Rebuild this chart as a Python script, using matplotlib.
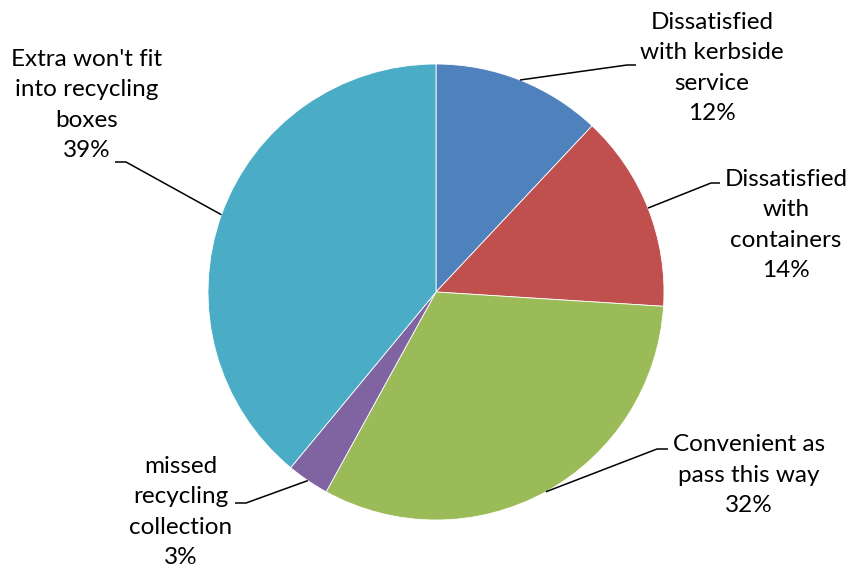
import matplotlib
matplotlib.use("Agg")
import matplotlib.pyplot as plt
import numpy as np

# reasons for using the bring site, share of respondents (%)
reasons = [
    "Dissatisfied\nwith kerbside\nservice",
    "Dissatisfied\nwith\ncontainers",
    "Convenient as\npass this way",
    "missed\nrecycling\ncollection",
    "Extra won't fit\ninto recycling\nboxes",
]
shares = [12, 14, 32, 3, 39]
colors = ["#4F81BD", "#C0504D", "#9BBB59", "#8064A2", "#4BACC6"]

# label layout in pixel coords: text centre, elbow of leader line, end of leader
label_pos = [(712, 68), (786, 225), (749, 475), (181, 512), (87, 105)]
elbows = [(627, 65), (711, 183), (657, 449), (246, 503), (126, 162)]
line_ends = [(636, 65), (720, 183), (668, 449), (235, 503), (115, 162)]

plt.rcParams["font.family"] = ["Lato", "DejaVu Sans"]

W, H = 850, 571
fig = plt.figure(figsize=(W / 100, H / 100), dpi=100)
ax = fig.add_axes([0, 0, 1, 1])

center = (436, 292)
radius = 228
wedges, _ = ax.pie(
    shares,
    colors=colors,
    startangle=-90,
    counterclock=True,
    center=center,
    radius=radius,
    wedgeprops=dict(edgecolor="white", linewidth=0.6),
)

ax.set_xlim(0, W)
ax.set_ylim(H, 0)
ax.set_aspect("equal")
ax.axis("off")

for w, name, share, pos, elb, end in zip(wedges, reasons, shares, label_pos, elbows, line_ends):
    mid = np.deg2rad((w.theta1 + w.theta2) / 2)
    x0 = center[0] + radius * np.cos(mid)
    y0 = center[1] + radius * np.sin(mid)
    ax.plot([x0, elb[0], end[0]], [y0, elb[1], end[1]], color="black", lw=1.1,
            solid_capstyle="butt")
    ax.text(pos[0], pos[1], f"{name}\n{share}%", ha="center", va="center",
            fontsize=17.5, linespacing=1.55, color="black")

fig.savefig("out.png", dpi=100)
